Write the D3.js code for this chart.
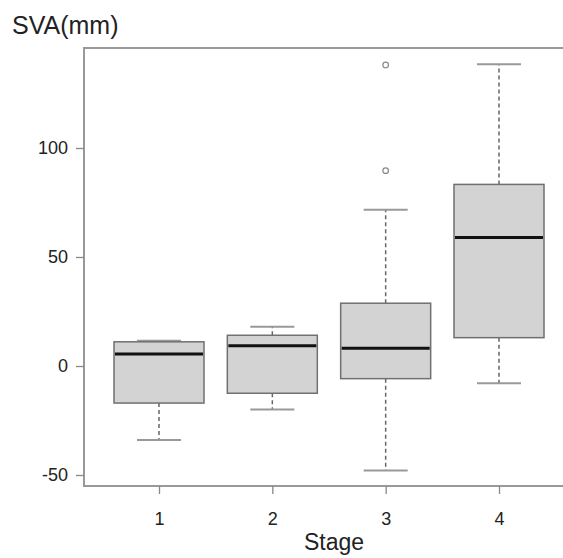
<!DOCTYPE html>
<head>
  <meta charset="utf-8">
  <script src="https://cdnjs.cloudflare.com/ajax/libs/d3/7.8.5/d3.min.js"></script>
</head>
<style>
  body { margin: 0; background: #fff; }
  text { font-family: "Liberation Sans", Arial, sans-serif; fill: #222; }
  .box { fill: #d3d3d3; stroke: #707070; stroke-width: 1.5px; }
  .median { stroke: #111; stroke-width: 3px; }
  .whisker { stroke: #666; stroke-width: 1.5px; stroke-dasharray: 4,3; }
  .cap { stroke: #999; stroke-width: 2px; }
  .outlier { fill: none; stroke: #888; stroke-width: 1.2px; }
</style>
<body>
<script>
// data
var stages = [1, 2, 3, 4];
var q1 = [-17, -12.5, -5.8, 13];
var medians = [5.5, 9.3, 8.1, 59];
var q3 = [11.1, 14.1, 28.8, 83.3];
var whiskerLow = [-34, -19.9, -47.9, -7.9];
var whiskerHigh = [11.6, 18, 71.7, 138.4];
var outliers = [[], [], [89.6, 138.1], []];
var yTicks = [-50, 0, 50, 100];

var width = 563, height = 558;
var plot = {left: 84, top: 48, bottom: 486};

var svg = d3.select("body").append("svg")
    .attr("width", width)
    .attr("height", height);

var x = d3.scaleLinear().domain([1, 4]).range([159, 499]);
var y = d3.scaleLinear().domain([0, 100]).range([366, 148]);

var boxW = 90, capW = 44;

// frame (right side runs off the image)
svg.append("path")
    .attr("d", "M" + width + "," + plot.top + "H" + plot.left + "V" + plot.bottom + "H" + width)
    .attr("fill", "none")
    .attr("stroke", "#999")
    .attr("stroke-width", 2);

// axes, plain hyphen for negatives
var yAxis = svg.append("g")
    .attr("transform", "translate(" + plot.left + ",0)")
    .call(d3.axisLeft(y).tickValues(yTicks).tickSize(8).tickPadding(8).tickFormat((d) => String(d)));
var xAxis = svg.append("g")
    .attr("transform", "translate(0," + plot.bottom + ")")
    .call(d3.axisBottom(x).tickValues(stages).tickSize(8).tickPadding(18).tickFormat((d) => String(d)));
[yAxis, xAxis].forEach(function(a) {
  a.select(".domain").remove();
  a.selectAll(".tick line").attr("stroke", "#888").attr("stroke-width", 1.3);
  a.selectAll(".tick text").style("font-size", "18px").attr("fill", "#222");
});

var g = svg.selectAll(".stage")
    .data(stages)
  .enter().append("g")
    .attr("class", "stage");

// dashed whiskers
g.append("line").attr("class", "whisker")
    .attr("x1", (d) => x(d)).attr("x2", (d) => x(d))
    .attr("y1", (d, i) => y(q3[i])).attr("y2", (d, i) => y(whiskerHigh[i]));
g.append("line").attr("class", "whisker")
    .attr("x1", (d) => x(d)).attr("x2", (d) => x(d))
    .attr("y1", (d, i) => y(q1[i])).attr("y2", (d, i) => y(whiskerLow[i]));

// caps
g.append("line").attr("class", "cap")
    .attr("x1", (d) => x(d) - capW / 2).attr("x2", (d) => x(d) + capW / 2)
    .attr("y1", (d, i) => y(whiskerHigh[i])).attr("y2", (d, i) => y(whiskerHigh[i]));
g.append("line").attr("class", "cap")
    .attr("x1", (d) => x(d) - capW / 2).attr("x2", (d) => x(d) + capW / 2)
    .attr("y1", (d, i) => y(whiskerLow[i])).attr("y2", (d, i) => y(whiskerLow[i]));

// boxes
g.append("rect").attr("class", "box")
    .attr("x", (d) => x(d) - boxW / 2)
    .attr("width", boxW)
    .attr("y", (d, i) => y(q3[i]))
    .attr("height", (d, i) => y(q1[i]) - y(q3[i]));

g.append("line").attr("class", "median")
    .attr("x1", (d) => x(d) - boxW / 2 + 1).attr("x2", (d) => x(d) + boxW / 2 - 1)
    .attr("y1", (d, i) => y(medians[i])).attr("y2", (d, i) => y(medians[i]));

// outliers
g.selectAll(".outlier")
    .data((d, i) => outliers[i].map((v) => [d, v]))
  .enter().append("circle")
    .attr("class", "outlier")
    .attr("cx", (p) => x(p[0]))
    .attr("cy", (p) => y(p[1]))
    .attr("r", 2.8);

// labels
svg.append("text")
    .attr("x", 12).attr("y", 34)
    .style("font-size", "25px")
    .text("SVA(mm)");

svg.append("text")
    .attr("x", 334).attr("y", 550)
    .attr("text-anchor", "middle")
    .style("font-size", "23px")
    .text("Stage");
</script>
</body>
